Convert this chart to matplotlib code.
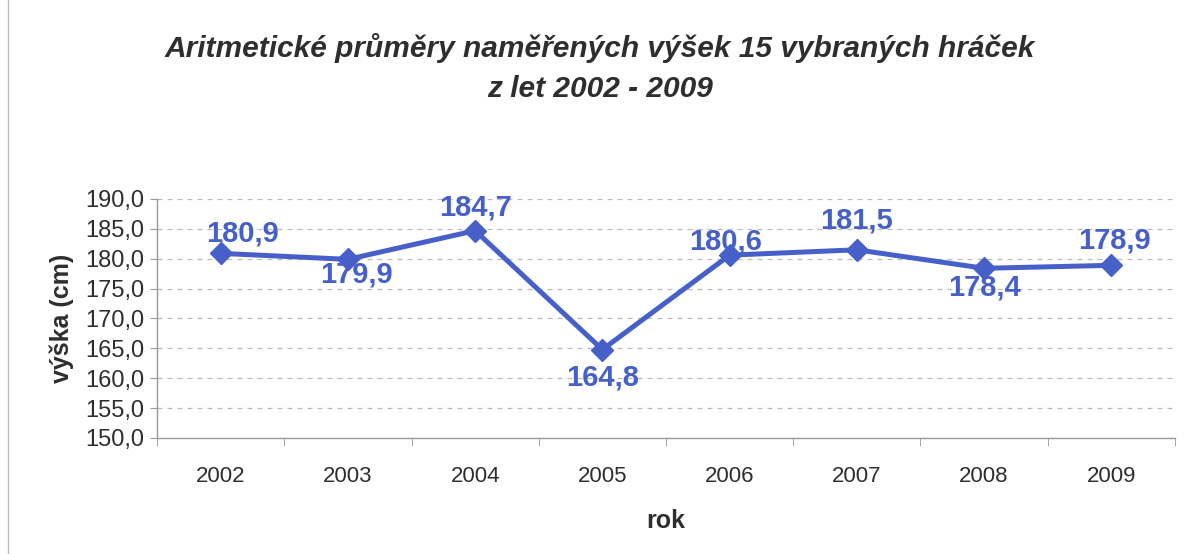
import matplotlib.pyplot as plt
from matplotlib.lines import Line2D

plt.rcParams['font.family'] = ['Liberation Sans', 'DejaVu Sans']

# values
years = ["2002", "2003", "2004", "2005", "2006", "2007", "2008", "2009"]
heights = [180.9, 179.9, 184.7, 164.8, 180.6, 181.5, 178.4, 178.9]
# label offsets (points) as placed in the original
label_dx = [16, 6, 0, 0, -3, 0, 0, 2]
label_dy = [14, -11, 17, -20, 10, 21, -14, 18]

blue = "#4760c9"
grey_text = "#2e2e2e"

fig = plt.figure(figsize=(11.86, 5.54), dpi=100)
ax = fig.add_axes([0.1324, 0.2094, 0.8583, 0.4314])

x = list(range(len(years)))
ax.plot(x, heights, color=blue, lw=3.6, marker="D", markersize=11,
        markerfacecolor=blue, markeredgecolor=blue, zorder=3)

for i, v in enumerate(heights):
    lbl = f"{v:.1f}".replace(".", ",")
    ax.annotate(lbl, (i, v), xytext=(label_dx[i], label_dy[i]),
                textcoords="offset points", ha="center", va="center",
                fontsize=21, fontweight="bold", color=blue, zorder=4)

ax.set_xlim(-0.5, len(years) - 0.5)
ax.set_ylim(150, 190)
yt = list(range(150, 191, 5))
ax.set_yticks(yt)
ax.set_yticklabels([f"{t:.1f}".replace(".", ",") for t in yt],
                   fontsize=17, color=grey_text)
ax.set_xticks(x)
ax.set_xticklabels(years, fontsize=16, color=grey_text)
ax.tick_params(axis="x", length=0, pad=20)
ax.set_xticks([i - 0.5 for i in range(len(years) + 1)], minor=True)
ax.tick_params(axis="x", which="minor", length=6, color="#999999")
ax.tick_params(axis="y", length=5, color="#999999", pad=4)

for t in yt[1:]:
    ax.axhline(t, color="#bbbbbb", lw=0.9, ls=(0, (4, 4)), zorder=1)

for s in ["top", "right"]:
    ax.spines[s].set_visible(False)
for s in ["left", "bottom"]:
    ax.spines[s].set_color("#999999")
    ax.spines[s].set_linewidth(1)

ax.set_ylabel("výška (cm)", fontsize=18, fontweight="bold", color=grey_text,
              labelpad=8)
ax.set_xlabel("rok", fontsize=18, fontweight="bold", color=grey_text,
              labelpad=16)

fig.text(0.506, 0.913, "Aritmetické průměry naměřených výšek 15 vybraných hráček",
         ha="center", va="center", fontsize=21.5, fontweight="bold",
         fontstyle="italic", color=grey_text)
fig.text(0.506, 0.839, "z let 2002 - 2009", ha="center", va="center",
         fontsize=21.5, fontweight="bold", fontstyle="italic", color=grey_text)

fig.add_artist(Line2D([0.007, 0.007], [0, 1], transform=fig.transFigure,
                      color="#bbbbbb", lw=1))

fig.savefig("out.png", dpi=100)
